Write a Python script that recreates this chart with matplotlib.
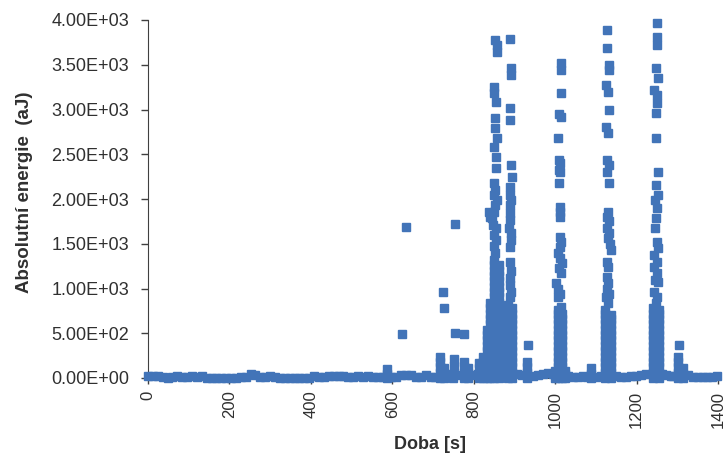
import matplotlib
matplotlib.use("Agg")
import matplotlib.pyplot as plt
from matplotlib.ticker import FuncFormatter

# continuous low-energy background (time s, energy aJ)
base_t = [0, 12, 24, 36, 48, 60, 72, 84, 96, 108, 120, 132, 144, 156, 168, 180, 192, 204, 216, 228,
          240, 252, 264, 276, 288, 300, 312, 324, 336, 348, 360, 372, 384, 396, 408, 420, 432, 444,
          456, 468, 480, 492, 504, 516, 528, 540, 552, 564, 576, 598, 610, 622, 634, 646, 658, 670,
          682, 694, 706, 740, 762, 798, 810, 906, 918, 946, 958, 970, 982, 994, 1032, 1044, 1056,
          1068, 1078, 1100, 1112, 1150, 1162, 1174, 1186, 1198, 1210, 1222, 1263, 1272, 1284, 1290,
          1326, 1338, 1350, 1362, 1374, 1386, 1398]
base_e = [20, 25, 25, 10, 5, 8, 25, 8, 10, 25, 8, 25, 5, 5, 5, 5, 5, 5, 5, 8,
          15, 40, 30, 10, 8, 25, 8, 5, 5, 5, 5, 5, 5, 5, 25, 10, 15, 20,
          20, 20, 20, 10, 8, 25, 10, 25, 10, 8, 8, 10, 8, 30, 35, 35, 10, 10,
          30, 10, 15, 20, 30, 30, 40, 40, 30, 20, 30, 40, 60, 50, 20, 15, 15,
          20, 15, 15, 20, 20, 15, 15, 20, 20, 35, 40, 40, 30, 20, 20,
          30, 15, 10, 10, 10, 10, 20]

# stacked columns of hits (time s -> energies aJ)
col_t = [587, 718, 728, 750, 776, 786, 812, 822, 832, 841, 850, 861,
         885, 893, 930, 1000, 1006, 1016, 1024, 1087, 1122, 1136,
         1240, 1254, 1302, 1314]
col_e = [
    [0, 50, 100],
    [0, 60, 120, 180, 230],
    [0, 60, 110],
    [0, 40],
    [0, 60, 120, 180],
    [0, 60, 110],
    [0, 50, 110, 170],
    [0, 60, 120, 180, 240],
    [0, 60, 120, 180, 240, 300, 360, 420, 480, 540],
    [0, 60, 120, 180, 240, 300, 360, 420, 480, 540, 600, 660, 720, 780, 840],
    [0, 60, 120, 180, 240, 300, 360, 420, 480, 540, 600, 660, 720, 780, 840, 900, 960,
     1020, 1080, 1140, 1200, 1260, 1320],
    [0, 60, 120, 180, 240, 300, 360, 420, 480, 540, 600, 660, 720, 780, 840, 900, 960,
     1020, 1080, 1140, 1200, 1260],
    [0, 60, 120, 180, 240, 300, 360, 420, 480, 540, 600, 660, 720, 780, 815],
    [0, 60, 120, 180, 240, 300, 360, 420, 480, 540, 600, 660, 720, 780],
    [0, 60, 120, 180],
    [0, 40, 80],
    [0, 60, 120, 180, 240, 300, 360, 420, 480, 540, 600, 660, 720, 760],
    [0, 60, 120, 180, 240, 300, 360, 420, 480, 540, 600, 660, 720],
    [0, 40, 80],
    [0, 50, 110],
    [0, 60, 120, 180, 240, 300, 360, 420, 480, 540, 600, 660, 720, 760],
    [0, 60, 120, 180, 240, 300, 360, 420, 480, 540, 600, 660, 700],
    [0, 60, 120, 180, 240, 300, 360, 420, 480, 540, 600, 660, 720, 780],
    [0, 60, 120, 180, 240, 300, 360, 420, 480, 540, 600, 660, 720, 760],
    [0, 60, 120, 180, 240],
    [0, 50, 110],
]

# isolated high-energy hits
hit_t = [624, 634, 725, 728, 752, 752, 754, 754, 776, 934, 1305,
         852, 849, 855, 851, 854, 847, 845, 850, 853, 856, 850, 853, 851, 854, 854, 850,
         856, 852, 853, 854, 851, 850, 857, 857, 853, 838, 840,
         889, 891, 891, 889, 888, 891, 893, 889, 891, 890, 890, 890, 890, 887, 892, 892,
         890, 889, 891, 889, 890, 891, 889,
         1014, 1014, 1014, 1010, 1014, 1008, 1009, 1013, 1009, 1013, 1010, 1011, 1013, 1011,
         1011, 1015, 1013, 1007, 1012, 1016, 1010, 1014, 1003, 1008, 1012, 1006, 1015,
         1128, 1128, 1133, 1133, 1125, 1130, 1133, 1126, 1130, 1127, 1133, 1128, 1133, 1130,
         1127, 1132, 1127, 1133, 1129, 1135, 1136, 1128, 1131, 1127, 1131, 1127, 1133, 1125, 1130,
         1250, 1249, 1250, 1247, 1253, 1244, 1250, 1251, 1247, 1247, 1252, 1248, 1252, 1246,
         1251, 1247, 1245, 1250, 1253, 1244, 1249, 1243, 1250, 1246, 1252, 1244, 1251, 1248]
hit_e = [490, 1690, 960, 780, 210, 130, 500, 1720, 490, 370, 370,
         1400, 1480, 1540, 1600, 1680, 1710, 1790, 1850, 1930, 1990, 2040, 2100, 2180, 2350, 2470,
         2580, 2680, 2790, 2900, 3080, 3180, 3250, 3640, 3720, 3780, 1860, 1800,
         3790, 3460, 3390, 3020, 2880, 2380, 2250, 2130, 1990, 2040, 1930, 1840, 1770, 1680,
         1620, 1540, 1460, 1300, 1200, 1120, 1040, 960, 900,
         3520, 3440, 3180, 2950, 2920, 2680, 2440, 2400, 2320, 2300, 2180, 1910, 1850, 1800,
         1580, 1520, 1460, 1400, 1340, 1280, 1230, 1170, 1060, 1000, 940, 900, 790,
         3890, 3690, 3500, 3440, 3270, 3200, 3000, 2800, 2740, 2440, 2380, 2300, 2180, 1850,
         1800, 1750, 1680, 1620, 1560, 1500, 1430, 1300, 1240, 1130, 1060, 1000, 940, 900, 840,
         3970, 3810, 3720, 3460, 3350, 3220, 3160, 3070, 2960, 2680, 2300, 2160, 2040, 1990,
         1900, 1790, 1680, 1520, 1450, 1370, 1300, 1240, 1170, 1100, 1070, 960, 900, 840]

x_ticks = [0, 200, 400, 600, 800, 1000, 1200, 1400]
y_ticks = [0, 500, 1000, 1500, 2000, 2500, 3000, 3500, 4000]

plt.rcParams['font.family'] = ['Liberation Sans', 'DejaVu Sans']
blue = '#4274b8'
ink = '#303030'

fig = plt.figure(figsize=(7.27, 4.53), dpi=100)
ax = fig.add_axes([148 / 727, 1 - 378 / 453, 570 / 727, 358 / 453])

ts, es = list(base_t), list(base_e)
for t, col in zip(col_t, col_e):
    ts += [t] * len(col)
    es += col
ts += hit_t
es += hit_e

ax.plot(ts, es, linestyle='none', marker='s', markersize=5.2, color=blue,
        markeredgecolor=blue, clip_on=False, zorder=3)

ax.set_xlim(0, 1400)
ax.set_ylim(0, 4000)
ax.set_xticks(x_ticks)
ax.set_yticks(y_ticks)
ax.yaxis.set_major_formatter(FuncFormatter(lambda v, p: f"{v:.2E}"))
ax.tick_params(axis='x', labelrotation=90, labelsize=12, length=4, width=1,
               color='#404040', labelcolor=ink, pad=5)
ax.tick_params(axis='y', labelsize=13, length=5, width=1,
               color='#404040', labelcolor=ink, pad=8.5)
for side in ['top', 'right']:
    ax.spines[side].set_visible(False)
for side in ['left', 'bottom']:
    ax.spines[side].set_color('#404040')

ax.set_xlabel('Doba [s]', fontsize=13, fontweight='bold', color=ink)
ax.xaxis.set_label_coords((430 - 148) / 570, (378 - 436) / 358)
ax.set_ylabel('Absolutní energie  (aJ)', fontsize=13.5, fontweight='bold', color=ink)
ax.yaxis.set_label_coords((33 - 148) / 570, (378 - 192) / 358)

fig.savefig('out.png', dpi=100)
